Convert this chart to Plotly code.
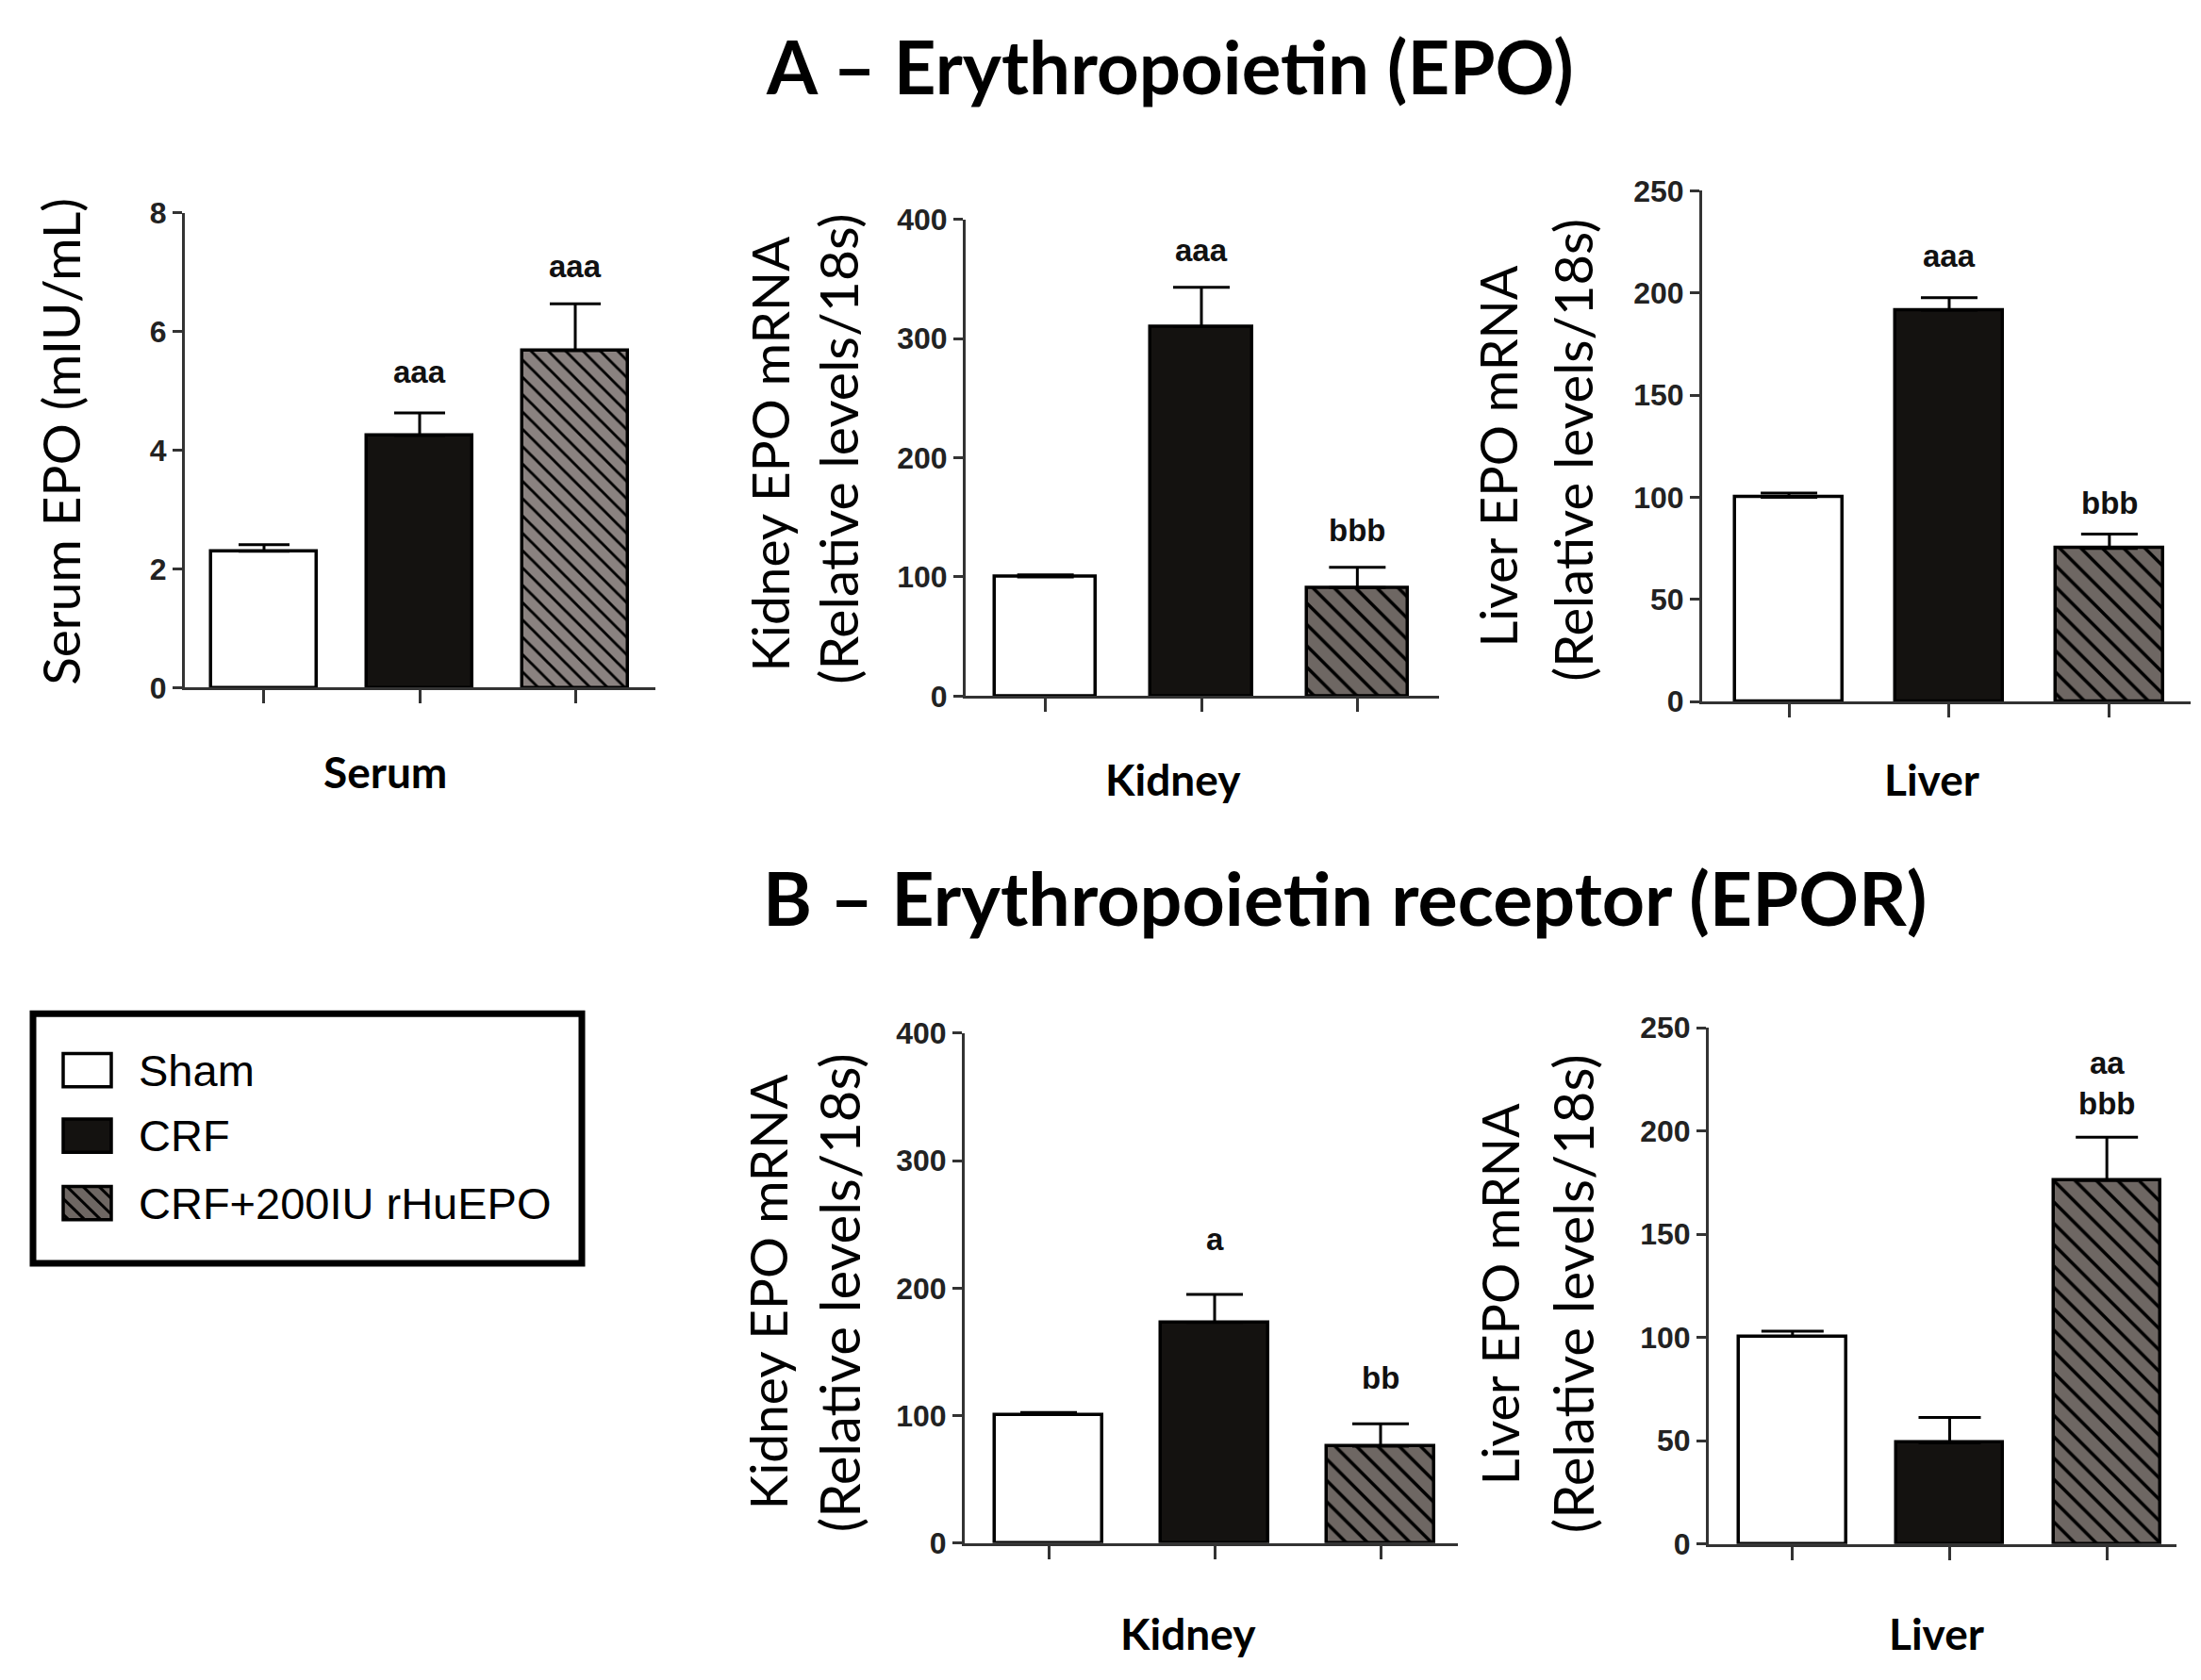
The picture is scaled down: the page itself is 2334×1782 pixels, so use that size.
import plotly.graph_objects as go

W, H = 2334, 1782

# groups and values
groups = ["Sham", "CRF", "CRF+200IU rHuEPO"]

serum_epo = [2.30, 4.25, 5.68]
serum_epo_sem = [0.11, 0.38, 0.79]
serum_epo_sig = ["", "aaa", "aaa"]
serum_epo_sig_y = [None, 5.32, 7.10]

kidney_epo = [100, 310, 91]
kidney_epo_sem = [1.7, 33, 17]
kidney_epo_sig = ["", "aaa", "bbb"]
kidney_epo_sig_y = [None, 374, 139]

liver_epo = [100, 191.6, 75]
liver_epo_sem = [2.0, 6.1, 7.0]
liver_epo_sig = ["", "aaa", "bbb"]
liver_epo_sig_y = [None, 218, 97]

kidney_epor = [100.8, 173, 76]
kidney_epor_sem = [1.7, 22, 17.5]
kidney_epor_sig = ["", "a", "bb"]
kidney_epor_sig_y = [None, 238, 130]

liver_epor = [100.5, 49, 176]
liver_epor_sem = [2.5, 12.3, 21]
liver_epor_sig = ["", "", "aa<br>bbb"]
liver_epor_sig_y = [None, None, 223]

ARIAL = "Liberation Sans Narrow, Arial Narrow, Liberation Sans, Arial, sans-serif"
SANS = "Lato"
AXIS_COL = "#333333"
FILL = ["#ffffff", "#141210", "#6e6763"]
HATCH = ["", "", "\\"]


def px_x(p):
    return p / W


def px_y(p):
    return 1 - p / H


# panel layout: pixel boxes of each plot area, x range, y range, tick step
panels = [
    dict(vals=serum_epo, sem=serum_epo_sem, sig=serum_epo_sig, sig_y=serum_epo_sig_y,
         box=(188, 687, 204, 718), xr=[-0.509, 2.515], ymax=8, dtick=2, bw=0.68,
         gray="#8a8280", hatch=13, cap=27,
         ytitle=["Serum EPO (mIU/mL)"], yt_x=[56], yt_y=[452], yt_size=[55],
         xlabel="Serum", xl=(400, 809)),
    dict(vals=kidney_epo, sem=kidney_epo_sem, sig=kidney_epo_sig, sig_y=kidney_epo_sig_y,
         box=(1016, 1518, 211, 727), xr=[-0.512, 2.524], ymax=400, dtick=100, bw=0.65,
         gray="#6e6763", hatch=16, cap=30,
         ytitle=["Kidney EPO mRNA", "(Relative levels/18s)"], yt_x=[808, 880],
         yt_y=[465, 460], yt_size=[55, 57],
         xlabel="Kidney", xl=(1236, 817)),
    dict(vals=liver_epo, sem=liver_epo_sem, sig=liver_epo_sig, sig_y=liver_epo_sig_y,
         box=(1797, 2315, 180, 733), xr=[-0.542, 2.507], ymax=250, dtick=50, bw=0.67,
         gray="#6e6763", hatch=16, cap=30,
         ytitle=["Liver EPO mRNA", "(Relative levels/18s)"], yt_x=[1581, 1660],
         yt_y=[468, 461], yt_size=[54, 56],
         xlabel="Liver", xl=(2040, 817)),
    dict(vals=kidney_epor, sem=kidney_epor_sem, sig=kidney_epor_sig, sig_y=kidney_epor_sig_y,
         box=(1015, 1538, 1092, 1644), xr=[-0.506, 2.466], ymax=400, dtick=100, bw=0.65,
         gray="#6e6763", hatch=16, cap=30,
         ytitle=["Kidney EPO mRNA", "(Relative levels/18s)"], yt_x=[806, 881],
         yt_y=[1372, 1373], yt_size=[55, 58],
         xlabel="Kidney", xl=(1252, 1742)),
    dict(vals=liver_epor, sem=liver_epor_sem, sig=liver_epor_sig, sig_y=liver_epor_sig_y,
         box=(1804, 2300, 1086, 1645), xr=[-0.533, 2.443], ymax=250, dtick=50, bw=0.68,
         gray="#6e6763", hatch=16, cap=33,
         ytitle=["Liver EPO mRNA", "(Relative levels/18s)"], yt_x=[1582, 1659],
         yt_y=[1375, 1374], yt_size=[54, 58],
         xlabel="Liver", xl=(2045, 1742)),
]

fig = go.Figure()
annotations = []
shapes = []
layout_axes = {}

for i, p in enumerate(panels, start=1):
    xa = "x" if i == 1 else f"x{i}"
    ya = "y" if i == 1 else f"y{i}"
    x0, x1, y0, y1 = p["box"]
    colors = [FILL[0], FILL[1], p["gray"]]

    # one trace per group so each bar gets its own fill / hatch
    for k, name in enumerate(groups):
        pattern = dict(shape=HATCH[k])
        if HATCH[k]:
            pattern.update(bgcolor=colors[k], fgcolor="black", fgopacity=1,
                           fillmode="replace", size=p["hatch"], solidity=0.22)
        fig.add_trace(go.Bar(
            x=[k], y=[p["vals"][k]], width=p["bw"], name=name,
            marker=dict(color=colors[k], line=dict(color="black", width=3.5),
                        pattern=pattern),
            error_y=dict(type="data", symmetric=False, array=[p["sem"][k]], arrayminus=[0],
                         color="black", thickness=3, width=p["cap"]),
            xaxis=xa, yaxis=ya, showlegend=False, hoverinfo="skip",
        ))

    layout_axes["xaxis" if i == 1 else f"xaxis{i}"] = dict(
        domain=[px_x(x0), px_x(x1)], range=p["xr"], anchor=ya,
        showline=True, linecolor=AXIS_COL, linewidth=3,
        ticks="outside", tickvals=[0, 1, 2], ticklen=14, tickwidth=2.5, tickcolor=AXIS_COL,
        showticklabels=False, showgrid=False, zeroline=False, fixedrange=True,
    )
    layout_axes["yaxis" if i == 1 else f"yaxis{i}"] = dict(
        domain=[px_y(y1), px_y(y0)], range=[0, p["ymax"]], anchor=xa, dtick=p["dtick"],
        showline=True, linecolor=AXIS_COL, linewidth=3,
        ticks="outside", ticklen=10, tickwidth=2.5, tickcolor=AXIS_COL,
        tickfont=dict(family=ARIAL, size=32, color="#222222", weight="bold"),
        showgrid=False, zeroline=False, fixedrange=True,
    )

    # significance letters above bars
    for k, (txt, yy) in enumerate(zip(p["sig"], p["sig_y"])):
        if txt:
            annotations.append(dict(
                x=k, y=yy, xref=xa, yref=ya, text=txt, showarrow=False,
                xanchor="center", yanchor="middle",
                font=dict(family=ARIAL, size=33, color="#111111", weight="bold"),
            ))

    # y-axis titles (rotated)
    for txt, tx, ty, fs in zip(p["ytitle"], p["yt_x"], p["yt_y"], p["yt_size"]):
        annotations.append(dict(
            x=px_x(tx), y=px_y(ty), xref="paper", yref="paper", text=txt,
            showarrow=False, textangle=-90, xanchor="center", yanchor="middle",
            font=dict(family=SANS, size=fs, color="black"),
        ))

    # x-axis group label
    annotations.append(dict(
        x=px_x(p["xl"][0]), y=px_y(p["xl"][1]), xref="paper", yref="paper",
        text=p["xlabel"], showarrow=False, xanchor="center", yanchor="middle",
        font=dict(family=SANS, size=46, color="black", weight="bold"),
    ))

# section titles
annotations.append(dict(
    x=px_x(1233), y=px_y(45), xref="paper", yref="paper",
    text="A \u2013 Erythropoietin (EPO)", showarrow=False,
    xanchor="center", yanchor="middle",
    font=dict(family=SANS, size=78, color="black", weight="bold"),
))
annotations.append(dict(
    x=px_x(1418), y=px_y(945), xref="paper", yref="paper",
    text="B \u2013 Erythropoietin receptor (EPOR)", showarrow=False,
    xanchor="center", yanchor="middle",
    font=dict(family=SANS, size=79, color="black", weight="bold"),
))

# legend box drawn by hand so the keys can be as large as in the figure
shapes.append(dict(type="rect", xref="paper", yref="paper",
                   x0=px_x(27), x1=px_x(609), y0=px_y(1071), y1=px_y(1341),
                   line=dict(color="black", width=7), fillcolor="white"))
legend_rows = [1132, 1203, 1276]
sw_x0, sw_x1, sw_h = 59, 110, 18
for k, (name, cy) in enumerate(zip(groups, legend_rows)):
    shapes.append(dict(type="rect", xref="paper", yref="paper",
                       x0=px_x(sw_x0), x1=px_x(sw_x1), y0=px_y(cy + sw_h), y1=px_y(cy - sw_h),
                       line=dict(color="black", width=3.5), fillcolor=FILL[k]))
    annotations.append(dict(
        x=px_x(137), y=px_y(cy), xref="paper", yref="paper", text=name,
        showarrow=False, xanchor="left", yanchor="middle",
        font=dict(family=ARIAL, size=47, color="black"),
    ))

# hatch in the third legend key
cy = legend_rows[2]
top, bot = cy - sw_h, cy + sw_h
for off in range(-30, 60, 17):
    xa0, ya0 = sw_x0 + off, top
    xa1, ya1 = xa0 + (bot - top), bot
    if xa0 < sw_x0:
        ya0 = top + (sw_x0 - xa0)
        xa0 = sw_x0
    if xa1 > sw_x1:
        ya1 = bot - (xa1 - sw_x1)
        xa1 = sw_x1
    if ya0 >= ya1:
        continue
    shapes.append(dict(type="line", xref="paper", yref="paper",
                       x0=px_x(xa0), y0=px_y(ya0), x1=px_x(xa1), y1=px_y(ya1),
                       line=dict(color="black", width=3)))

fig.update_layout(
    width=W, height=H,
    margin=dict(l=0, r=0, t=0, b=0),
    paper_bgcolor="white", plot_bgcolor="rgba(0,0,0,0)",
    annotations=annotations, shapes=shapes,
    barmode="overlay", bargap=0, showlegend=False,
    **layout_axes,
)

fig.write_html("out.html")
